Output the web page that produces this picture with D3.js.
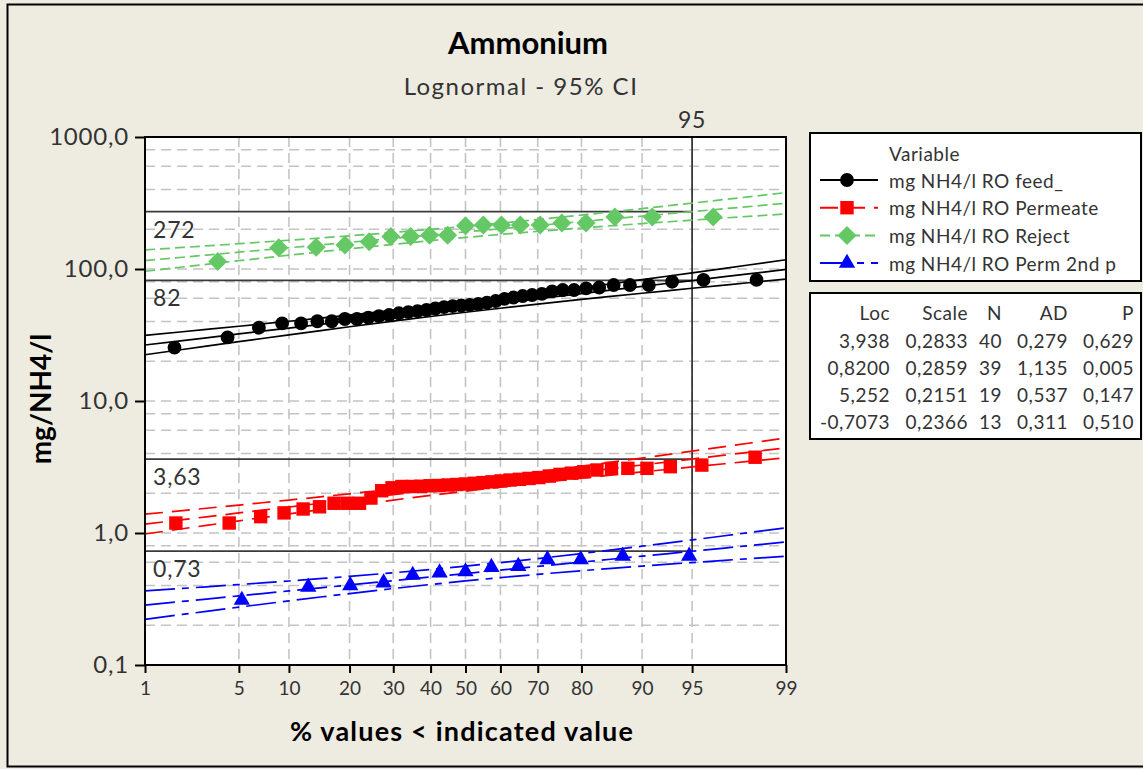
<!DOCTYPE html>
<html>
<head>
<meta charset="utf-8">
<script src="https://cdn.jsdelivr.net/npm/d3@7"></script>
<style>
  body { margin: 0; background: #eeebe1; }
  text { font-family: Lato, "Open Sans", sans-serif; fill: #333; }
</style>
</head>
<body>
<div class="chart"></div>
<script>
// === Data (sorted sample values) ===
const feed = [25.4, 30.3, 35.9, 38.7, 38.7, 40.2, 40.2, 41.8, 41.8, 42.8,
              44.0, 44.8, 46.2, 47.2, 48.0, 48.9, 50.2, 51.5, 52.4, 52.9,
              53.4, 54.3, 55.7, 57.2, 59.3, 60.8, 62.4, 63.5, 64.7, 67.6,
              69.3, 69.3, 71.4, 72.4, 75.6, 75.6, 75.6, 80.1, 82.6, 82.6];
const permeate = [1.19, 1.19, 1.33, 1.42, 1.52, 1.58, 1.68, 1.68, 1.68, 1.84,
                  2.09, 2.20, 2.25, 2.25, 2.26, 2.28, 2.29, 2.31, 2.33, 2.35,
                  2.38, 2.41, 2.44, 2.48, 2.52, 2.55, 2.59, 2.63, 2.70, 2.78,
                  2.84, 2.91, 3.00, 3.09, 3.09, 3.09, 3.18, 3.27, 3.75];
const reject = [114, 145, 146, 152, 161, 176, 176, 180, 180, 213,
                215, 215, 215, 215, 223, 223, 248, 248, 248];
const perm2 = [0.31, 0.39, 0.40, 0.42, 0.48, 0.50, 0.51, 0.55, 0.56, 0.63, 0.63, 0.67, 0.67];

const seriesNames = ["mg NH4/l RO feed_", "mg NH4/l RO Permeate", "mg NH4/l RO Reject", "mg NH4/l RO Perm 2nd p"];
const locValues = [3.938, 0.8200, 5.252, -0.7073];
const scaleValues = [0.2833, 0.2859, 0.2151, 0.2366];
const nValues = [40, 39, 19, 13];
const adValues = [0.279, 1.135, 0.537, 0.311];
const pValues = [0.629, 0.005, 0.147, 0.510];

const refValues = [272, 82, 3.63, 0.73];
const refLabels = ["272", "82", "3,63", "0,73"];
const refPercent = 95;

const xTicks = [1, 5, 10, 20, 30, 40, 50, 60, 70, 80, 90, 95, 99];
const yTicks = [0.1, 1, 10, 100, 1000];
const yTickLabels = ["0,1", "1,0", "10,0", "100,0", "1000,0"];
const yGrid = [0.2, 0.4, 0.6, 0.8, 1, 2, 4, 6, 8, 10, 20, 40, 60, 80, 100, 200, 400, 600, 800];
const curvePercents = [1, 2, 3, 5, 7, 10, 15, 20, 30, 40, 50, 60, 70, 80, 85, 90, 93, 95, 97, 98, 99];

// styles per series
const colors = ["#000000", "#ff0000", "#64c864", "#0000ff"];
const dashes = [null, "18,9", "10,5", "30,7,7,7"];
const symbols = [d3.symbolCircle, d3.symbolSquare, d3.symbolDiamond2, d3.symbolTriangle];
const symbolSizes = [150, 180, 230, 115];

const allSeries = [feed, permeate, reject, perm2];

// inverse normal cdf (Acklam)
function probit(p) {
    const a = [-39.69683028665376, 220.9460984245205, -275.9285104469687, 138.3577518672690, -30.66479806614716, 2.506628277459239];
    const b = [-54.47609879822406, 161.5858368580409, -155.6989798598866, 66.80131188771972, -13.28068155288572];
    const c = [-0.007784894002430293, -0.3223964580411365, -2.400758277161838, -2.549732539343734, 4.374664141464968, 2.938163982698783];
    const d = [0.007784695709041462, 0.3224671290700398, 2.445134137142996, 3.754408161907416];
    const plow = 0.02425;
    let q, r;
    if (p < plow) {
        q = Math.sqrt(-2 * Math.log(p));
        return (((((c[0]*q+c[1])*q+c[2])*q+c[3])*q+c[4])*q+c[5]) / ((((d[0]*q+d[1])*q+d[2])*q+d[3])*q+1);
    } else if (p <= 1 - plow) {
        q = p - 0.5; r = q * q;
        return (((((a[0]*r+a[1])*r+a[2])*r+a[3])*r+a[4])*r+a[5])*q / (((((b[0]*r+b[1])*r+b[2])*r+b[3])*r+b[4])*r+1);
    }
    q = Math.sqrt(-2 * Math.log(1 - p));
    return -(((((c[0]*q+c[1])*q+c[2])*q+c[3])*q+c[4])*q+c[5]) / ((((d[0]*q+d[1])*q+d[2])*q+d[3])*q+1);
}

// === Margin Convention ===
const margin = ({top: 137, left: 145});
const width = 641, height = 528;

const root = d3.select(".chart").append("svg")
    .attr("width", 1143)
    .attr("height", 769);

// figure frame
root.append("rect")
    .attr("x", 7.5).attr("y", 4.5)
    .attr("width", 1150).attr("height", 762)
    .attr("fill", "#eeebe1")
    .attr("stroke", "#000")
    .attr("stroke-width", 2);

// titles
root.append("text")
    .attr("x", 528).attr("y", 42)
    .attr("text-anchor", "middle")
    .attr("dominant-baseline", "central")
    .attr("font-size", "31px")
    .attr("font-weight", "bold")
    .style("fill", "#000")
    .text("Ammonium");

root.append("text")
    .attr("x", 521).attr("y", 85)
    .attr("text-anchor", "middle")
    .attr("dominant-baseline", "central")
    .attr("font-size", "24px")
    .attr("letter-spacing", "1.5px")
    .text("Lognormal - 95% CI");

const svg = root.append("g")
    .attr("transform", `translate(${margin.left},${margin.top})`);

// === Scales ===
const zScale = d3.scaleLinear()
    .domain([probit(0.01), probit(0.99)])
    .range([0, width]);
const xScale = p => zScale(probit(p / 100));

const yScale = d3.scaleLog()
    .domain([0.1, 1000])
    .range([height, 0]);

svg.append("rect")
    .attr("width", width).attr("height", height)
    .attr("fill", "#fff");

// === Grid ===
svg.append("g").selectAll("line")
    .data(yGrid)
    .join("line")
    .attr("x1", 0).attr("x2", width)
    .attr("y1", d => yScale(d)).attr("y2", d => yScale(d))
    .attr("stroke", "#c4c4c4")
    .attr("stroke-width", 1.6)
    .attr("stroke-dasharray", "10,6");

svg.append("g").selectAll("line")
    .data(xTicks.slice(1, -1))
    .join("line")
    .attr("x1", d => xScale(d)).attr("x2", d => xScale(d))
    .attr("y1", 0).attr("y2", height)
    .attr("stroke", "#c4c4c4")
    .attr("stroke-width", 1.6)
    .attr("stroke-dasharray", "10,6");

// === Axes ===
const xAxis = d3.axisBottom(zScale)
    .tickValues(xTicks.map(p => probit(p / 100)))
    .tickFormat((d, i) => xTicks[i])
    .tickSize(8)
    .tickPadding(9);

const yAxis = d3.axisLeft(yScale)
    .tickValues(yTicks)
    .tickFormat((d, i) => yTickLabels[i])
    .tickSize(10)
    .tickPadding(6);

const gx = svg.append("g")
    .attr("transform", `translate(0,${height})`)
    .call(xAxis);
gx.selectAll("text").attr("font-size", "19px").style("font-family", "Lato, sans-serif").style("fill", "#333");

const gy = svg.append("g").call(yAxis);
gy.selectAll("text").attr("font-size", "24px").attr("letter-spacing", "0.8px")
    .style("font-family", "Lato, sans-serif").style("fill", "#333");

[gx, gy].forEach(g => {
    g.select(".domain").remove();
    g.selectAll(".tick line").attr("stroke", "#000").attr("stroke-width", 2);
});

// axis titles
root.append("text")
    .attr("x", 462).attr("y", 730)
    .attr("text-anchor", "middle")
    .attr("dominant-baseline", "central")
    .attr("font-size", "27px")
    .attr("letter-spacing", "1.2px")
    .attr("font-weight", "bold")
    .style("fill", "#000")
    .text("% values < indicated value");

root.append("text")
    .attr("transform", "translate(40,399) rotate(-90)")
    .attr("text-anchor", "middle")
    .attr("dominant-baseline", "central")
    .attr("font-size", "28px")
    .attr("font-weight", "bold")
    .style("fill", "#000")
    .text("mg/NH4/l");

// === Reference lines ===
const refX = xScale(refPercent);
svg.append("g").selectAll("line")
    .data(refValues)
    .join("line")
    .attr("x1", 0).attr("x2", refX)
    .attr("y1", d => yScale(d)).attr("y2", d => yScale(d))
    .attr("stroke", "#3a3a3a")
    .attr("stroke-width", 1.8);

svg.append("line")
    .attr("x1", refX).attr("x2", refX)
    .attr("y1", 0).attr("y2", yScale(d3.min(refValues)))
    .attr("stroke", "#3a3a3a")
    .attr("stroke-width", 1.8);

svg.append("g").selectAll("text")
    .data(refValues)
    .join("text")
    .attr("x", 8)
    .attr("y", d => yScale(d) + 17)
    .attr("dominant-baseline", "central")
    .attr("font-size", "23px")
    .attr("letter-spacing", "0.8px")
    .text((d, i) => refLabels[i]);

svg.append("text")
    .attr("x", refX).attr("y", -18)
    .attr("text-anchor", "middle")
    .attr("dominant-baseline", "central")
    .attr("font-size", "23px")
    .attr("letter-spacing", "0.8px")
    .text(refPercent);

// === Fitted lines with 95% CI ===
const line = d3.line()
    .x(d => xScale(d[0]))
    .y(d => yScale(d[1]));

allSeries.forEach((values, s) => {
    const mu = locValues[s], sigma = scaleValues[s], n = nValues[s];
    [-1, 0, 1].forEach(side => {
        const pts = curvePercents.map(p => {
            const z = probit(p / 100);
            const se = sigma * Math.sqrt((1 + z * z / 2) / n);
            return [p, Math.exp(mu + z * sigma + side * 1.96 * se)];
        });
        svg.append("path")
            .datum(pts)
            .attr("d", line)
            .attr("fill", "none")
            .attr("stroke", colors[s])
            .attr("stroke-width", 1.7)
            .attr("stroke-dasharray", dashes[s]);
    });
});

// === Points (median rank plotting positions) ===
allSeries.forEach((values, s) => {
    const n = values.length;
    svg.append("g").selectAll("path")
        .data(values)
        .join("path")
        .attr("transform", (d, i) => `translate(${xScale(100 * (i + 0.7) / (n + 0.4))},${yScale(d)})`)
        .attr("d", d3.symbol(symbols[s], symbolSizes[s]))
        .attr("fill", colors[s]);
});

// plot frame
svg.append("rect")
    .attr("width", width).attr("height", height)
    .attr("fill", "none")
    .attr("stroke", "#000")
    .attr("stroke-width", 2);

// === Legend ===
const legend = root.append("g");
legend.append("rect")
    .attr("x", 810).attr("y", 133)
    .attr("width", 331).attr("height", 148)
    .attr("fill", "#fff")
    .attr("stroke", "#000")
    .attr("stroke-width", 2);

legend.append("text")
    .attr("x", 889).attr("y", 153)
    .attr("dominant-baseline", "central")
    .attr("font-size", "19px")
    .attr("letter-spacing", "0.5px")
    .text("Variable");

const legendRows = legend.selectAll(".legend-row")
    .data(seriesNames)
    .join("g")
    .attr("class", "legend-row")
    .attr("transform", (d, i) => `translate(0,${180 + i * 27.7})`);

legendRows.append("line")
    .attr("x1", 820).attr("x2", 878)
    .attr("stroke", (d, i) => colors[i])
    .attr("stroke-width", 2)
    .attr("stroke-dasharray", (d, i) => dashes[i]);

legendRows.append("path")
    .attr("transform", "translate(847,0)")
    .attr("d", (d, i) => d3.symbol(symbols[i], symbolSizes[i])())
    .attr("fill", (d, i) => colors[i]);

legendRows.append("text")
    .attr("x", 889)
    .attr("dominant-baseline", "central")
    .attr("font-size", "19px")
    .attr("letter-spacing", "0.5px")
    .text(d => d);

// === Stats table ===
const fmt = (f, v) => d3.format(f)(v).replace("\u2212", "-").replace(".", ",");
const columns = [
    {head: "Loc", right: 890, cell: i => fmt(".4r", locValues[i])},
    {head: "Scale", right: 968, cell: i => fmt(".4r", scaleValues[i])},
    {head: "N", right: 1002, cell: i => nValues[i]},
    {head: "AD", right: 1068, cell: i => fmt(".3f", adValues[i])},
    {head: "P", right: 1134, cell: i => fmt(".3f", pValues[i])}
];

const table = root.append("g");
table.append("rect")
    .attr("x", 810).attr("y", 293)
    .attr("width", 331).attr("height", 146)
    .attr("fill", "#fff")
    .attr("stroke", "#000")
    .attr("stroke-width", 2);

columns.forEach(col => {
    table.append("text")
        .attr("x", col.right).attr("y", 312)
        .attr("text-anchor", "end")
        .attr("dominant-baseline", "central")
        .attr("font-size", "19px")
        .attr("letter-spacing", "0.5px")
        .text(col.head);
    table.selectAll(null)
        .data(seriesNames)
        .join("text")
        .attr("x", col.right)
        .attr("y", (d, i) => 340 + i * 27.3)
        .attr("text-anchor", "end")
        .attr("dominant-baseline", "central")
        .attr("font-size", "19px")
        .attr("letter-spacing", "0.5px")
        .text((d, i) => col.cell(i));
});
</script>
</body>
</html>
